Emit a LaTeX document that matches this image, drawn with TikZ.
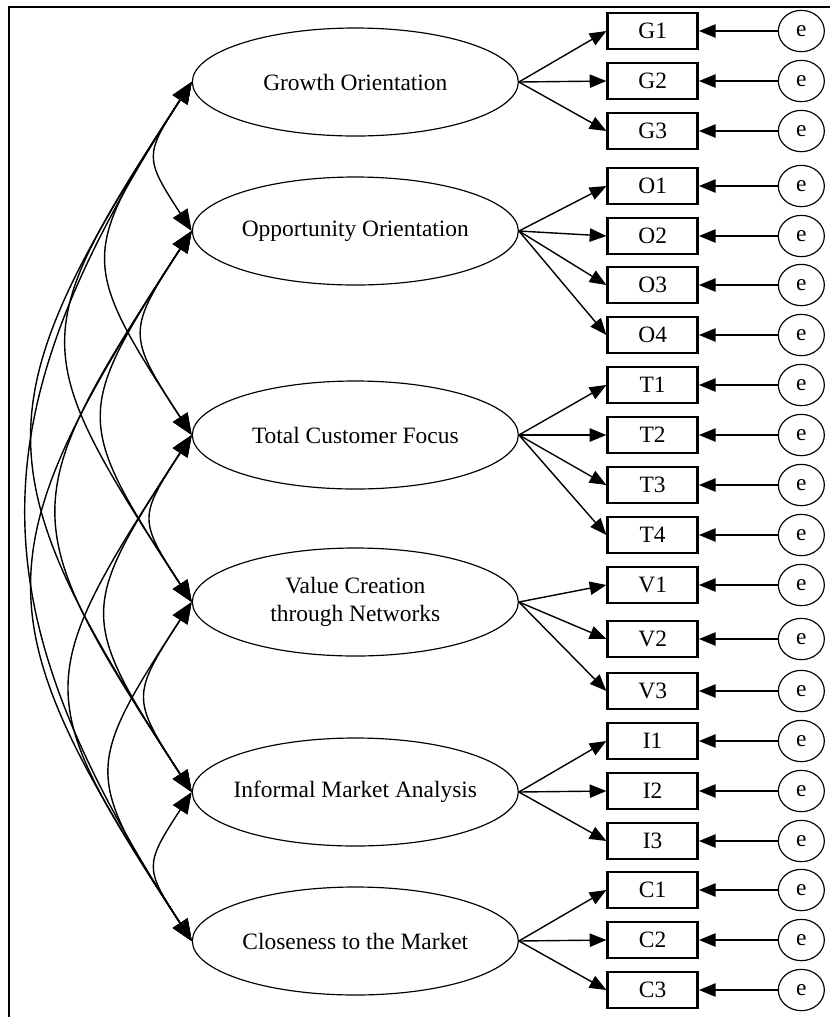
\documentclass[tikz,border=0pt]{standalone}
\usepackage{fontspec}
\setmainfont{Liberation Serif}
\usepackage{tikz}
\usetikzlibrary{shapes.geometric, arrows.meta}
\tikzset{
    latent_node/.style={
        ellipse, draw=black, line width=0.5pt, minimum width=4.89cm, minimum height=1.62cm,
        inner xsep=-6mm, inner ysep=0pt, align=center
    },
    item_node/.style={
        rectangle, draw=black, line width=1.1pt, minimum width=1.35cm, minimum height=0.54cm, inner sep=0pt
    },
    err_node/.style={
        ellipse, draw=black, line width=0.5pt, minimum width=0.69cm, minimum height=0.62cm, inner sep=0pt
    },
    arrow_load/.style={
        line width=0.6pt, -{Triangle[length=2.5mm, width=2mm]}
    },
    arrow_err/.style={
        line width=0.6pt, -{Triangle[length=2.5mm, width=2mm]}
    },
    arrow_cov/.style={
        line width=0.6pt, {Triangle[length=3.2mm, width=2.6mm]}-{Triangle[length=3.2mm, width=2.6mm]}
    }
}

\begin{document}
\begin{tikzpicture}
    \useasboundingbox (0,0) rectangle (12.45,-15.255);
    % Rahmen (nur oben und links sichtbar)
    \draw[line width=0.8pt] (12.45,-0.1) -- (0.13,-0.1) -- (0.13,-15.255);

    % Latente Variablen
    \node[latent_node] (go) at (5.33, -1.23) {Growth Orientation};
    \node[latent_node] (oo) at (5.33, -3.465) {Opportunity Orientation};
    \node[latent_node] (tcf) at (5.33, -6.525) {Total Customer Focus};
    \node[latent_node] (vcn) at (5.33, -9.03) {Value Creation\\through Networks};
    \node[latent_node] (ima) at (5.33, -11.88) {Informal Market Analysis};
    \node[latent_node] (ctm) at (5.33, -14.115) {Closeness to the Market};

    % Indikatoren mit Fehlertermen
    \foreach \nm/\yy/\lat in {G1/-0.465/go, G2/-1.215/go, G3/-1.965/go,
            O1/-2.79/oo, O2/-3.54/oo, O3/-4.275/oo, O4/-5.025/oo,
            T1/-5.775/tcf, T2/-6.525/tcf, T3/-7.275/tcf, T4/-8.025/tcf,
            V1/-8.775/vcn, V2/-9.585/vcn, V3/-10.365/vcn,
            I1/-11.115/ima, I2/-11.865/ima, I3/-12.615/ima,
            C1/-13.35/ctm, C2/-14.1/ctm, C3/-14.85/ctm} {
        \node[item_node] (\nm) at (9.79, \yy) {\nm};
        \node[err_node] (e\nm) at (12.02, \yy) {e};
        \draw[arrow_load] (\lat.east) -- (\nm.west);
        \draw[arrow_err] (e\nm.west) -- (\nm.east);
    }

    % Kovarianzen
    \foreach \a/\b/\lo in {go/oo/1.5, go/tcf/1.5, go/vcn/1.5, go/ima/1.4, go/ctm/1.2,
            oo/tcf/1.5, oo/vcn/1.5, oo/ima/1.5, oo/ctm/1.4,
            tcf/vcn/1.5, tcf/ima/1.5, tcf/ctm/1.5,
            vcn/ima/1.5, vcn/ctm/1.5, ima/ctm/1.5} {
        \draw[arrow_cov] (\a.west) to[out=237, in=123, looseness=\lo] (\b.west);
    }
\end{tikzpicture}
\end{document}
